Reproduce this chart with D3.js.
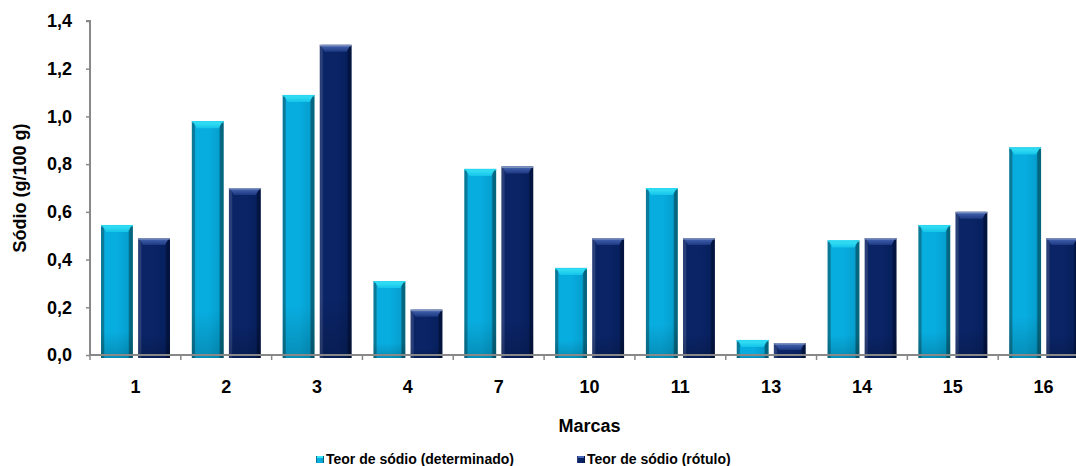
<!DOCTYPE html>
<html>
<head>
<meta charset="utf-8">
<script src="https://cdn.jsdelivr.net/npm/d3@7"></script>
<style>
  html, body { margin: 0; padding: 0; background: #fff; }
  svg { display: block; }
  text { font-family: "Liberation Sans", Arial, sans-serif; font-weight: bold; fill: #000; }
</style>
</head>
<body>
<svg id="chart" width="1076" height="466"></svg>
<script>
// Sodium content per brand (g/100 g)
const marcas = ["1", "2", "3", "4", "7", "10", "11", "13", "14", "15", "16"];
const determinado = [0.545, 0.98, 1.09, 0.31, 0.78, 0.365, 0.70, 0.063, 0.48, 0.545, 0.87];
const rotulo = [0.49, 0.70, 1.30, 0.19, 0.79, 0.49, 0.49, 0.05, 0.49, 0.60, 0.49];
const seriesNames = ["Teor de sódio (determinado)", "Teor de sódio (rótulo)"];
const yTicks = [0, 0.2, 0.4, 0.6, 0.8, 1.0, 1.2, 1.4];

const svg = d3.select("#chart");
const plot = { left: 90, right: 1089, top: 21, bottom: 355 };
const FONT = '"Liberation Sans", Arial, sans-serif';

const ptBR = d3.formatLocale({ decimal: ",", thousands: ".", grouping: [3], currency: ["R$", ""] });
const fmt = ptBR.format(".1f");

const x0 = d3.scaleBand().domain(marcas).range([plot.left, plot.right]).padding(0);
const x1 = d3.scaleBand().domain(seriesNames).range([11, 80]).paddingInner(0.14);
const y = d3.scaleLinear().domain([0, 1.4]).range([plot.bottom, plot.top]);

// colour sets: body gradient, cap, top rim
const palettes = [
  { id: "light", edgeL: "#0a7a98", mid: "#08ade0", mid2: "#05a0d0", edgeR: "#056680", cap: "#3de6f6", cap2: "#14c4ea", top: "#2ad8f0" },
  { id: "dark", edgeL: "#2a3f78", mid: "#0a2466", mid2: "#07205e", edgeR: "#031440", cap: "#4a68b8", cap2: "#1c3880", top: "#7d8fbb" }
];

const defs = svg.append("defs");
palettes.forEach(p => {
  const g = defs.append("linearGradient").attr("id", "body-" + p.id).attr("x1", 0).attr("x2", 1).attr("y1", 0).attr("y2", 0);
  [[0, p.edgeL], [0.08, p.edgeL], [0.12, p.mid], [0.5, p.mid], [0.85, p.mid2], [0.9, p.edgeR], [1, p.edgeR]]
    .forEach(([o, c]) => g.append("stop").attr("offset", o).attr("stop-color", c));
  const v = defs.append("linearGradient").attr("id", "shade-" + p.id).attr("x1", 0).attr("x2", 0).attr("y1", 0).attr("y2", 1);
  [[0, "#000", 0], [0.8, "#000", 0], [1, "#000", 0.18]]
    .forEach(([o, c, a]) => v.append("stop").attr("offset", o).attr("stop-color", c).attr("stop-opacity", a));
  const c = defs.append("linearGradient").attr("id", "cap-" + p.id).attr("x1", 0).attr("x2", 0).attr("y1", 0).attr("y2", 1);
  [[0, p.cap], [1, p.cap2]].forEach(([o, col]) => c.append("stop").attr("offset", o).attr("stop-color", col));
});

const rows = marcas.map((m, i) => ({ marca: m, vals: [determinado[i], rotulo[i]] }));

const groups = svg.append("g").selectAll("g")
  .data(rows).join("g")
  .attr("transform", d => `translate(${x0(d.marca)},0)`);

const bars = groups.selectAll("g.bar")
  .data(d => d.vals.map((v, k) => ({ v, k })))
  .join("g").attr("class", "bar");

bars.each(function (d) {
  const g = d3.select(this);
  const p = palettes[d.k];
  const bx = x1(seriesNames[d.k]);
  const bw = x1.bandwidth();
  const top = y(d.v);
  const bottom = y(0) + 3;
  const h = bottom - top;
  g.append("rect").attr("x", bx).attr("y", top).attr("width", bw).attr("height", h)
    .attr("fill", `url(#body-${p.id})`);
  g.append("rect").attr("x", bx).attr("y", top).attr("width", bw).attr("height", h)
    .attr("fill", `url(#shade-${p.id})`);
  const capH = Math.min(7, h - 1);
  g.append("path")
    .attr("d", `M${bx + 1},${top} L${bx + bw - 1},${top} L${bx + bw - 5},${top + capH} L${bx + 5},${top + capH} Z`)
    .attr("fill", `url(#cap-${p.id})`);
  g.append("rect").attr("x", bx).attr("y", top).attr("width", bw).attr("height", 1.5)
    .attr("fill", p.top);
});

// y axis
const yAxis = d3.axisLeft(y).tickValues(yTicks).tickFormat(fmt).tickSize(4).tickPadding(14);
const gy = svg.append("g").attr("transform", `translate(${plot.left},0)`).call(yAxis);
gy.select(".domain").attr("stroke", "#888").attr("stroke-width", 2).attr("d", `M-4,${plot.top}H0V${plot.bottom}`);
gy.selectAll(".tick line").attr("stroke", "#888").attr("stroke-width", 1.5);
gy.selectAll(".tick text").style("font-size", "18px").style("font-weight", "bold").attr("fill", "#000")
  .style("font-family", FONT);

// x axis: baseline and boundary ticks
const gx = svg.append("g").attr("transform", `translate(0,${plot.bottom})`);
gx.append("line").attr("x1", plot.left).attr("x2", plot.right).attr("y1", 0).attr("y2", 0)
  .attr("stroke", "#888").attr("stroke-width", 2);
gx.selectAll("line.b").data(marcas).join("line").attr("class", "b")
  .attr("x1", (d, i) => x0(marcas[0]) + (i + 1) * x0.step())
  .attr("x2", (d, i) => x0(marcas[0]) + (i + 1) * x0.step())
  .attr("y1", 0).attr("y2", 5).attr("stroke", "#888").attr("stroke-width", 1.5);
gx.append("line").attr("x1", plot.left).attr("x2", plot.left).attr("y1", 0).attr("y2", 5)
  .attr("stroke", "#888").attr("stroke-width", 1.5);
const xLabels = d3.axisBottom(x0).tickSize(0).tickPadding(25);
const gxl = svg.append("g").attr("transform", `translate(0,${plot.bottom})`).call(xLabels);
gxl.select(".domain").remove();
gxl.selectAll(".tick text").style("font-size", "18px").style("font-weight", "bold").attr("fill", "#000")
  .style("font-family", FONT);

// axis titles
svg.append("text").attr("transform", `translate(26,${(plot.top + plot.bottom) / 2}) rotate(-90)`)
  .attr("text-anchor", "middle").style("font-size", "18px").text("Sódio (g/100 g)");
svg.append("text").attr("x", (plot.left + plot.right) / 2).attr("y", 432)
  .attr("text-anchor", "middle").style("font-size", "18px").text("Marcas");

// legend
const legendX = [316, 577];
const leg = svg.append("g").selectAll("g").data(seriesNames).join("g")
  .attr("transform", (d, i) => `translate(${legendX[i]},0)`);
leg.append("rect").attr("x", 0).attr("y", 456).attr("width", 8).attr("height", 7)
  .attr("fill", (d, i) => `url(#body-${palettes[i].id})`);
leg.append("rect").attr("x", 1).attr("y", 456).attr("width", 6).attr("height", 2)
  .attr("fill", (d, i) => palettes[i].cap);
leg.append("text").attr("x", 10).attr("y", 464).style("font-size", "14px").text(d => d);
</script>
</body>
</html>
